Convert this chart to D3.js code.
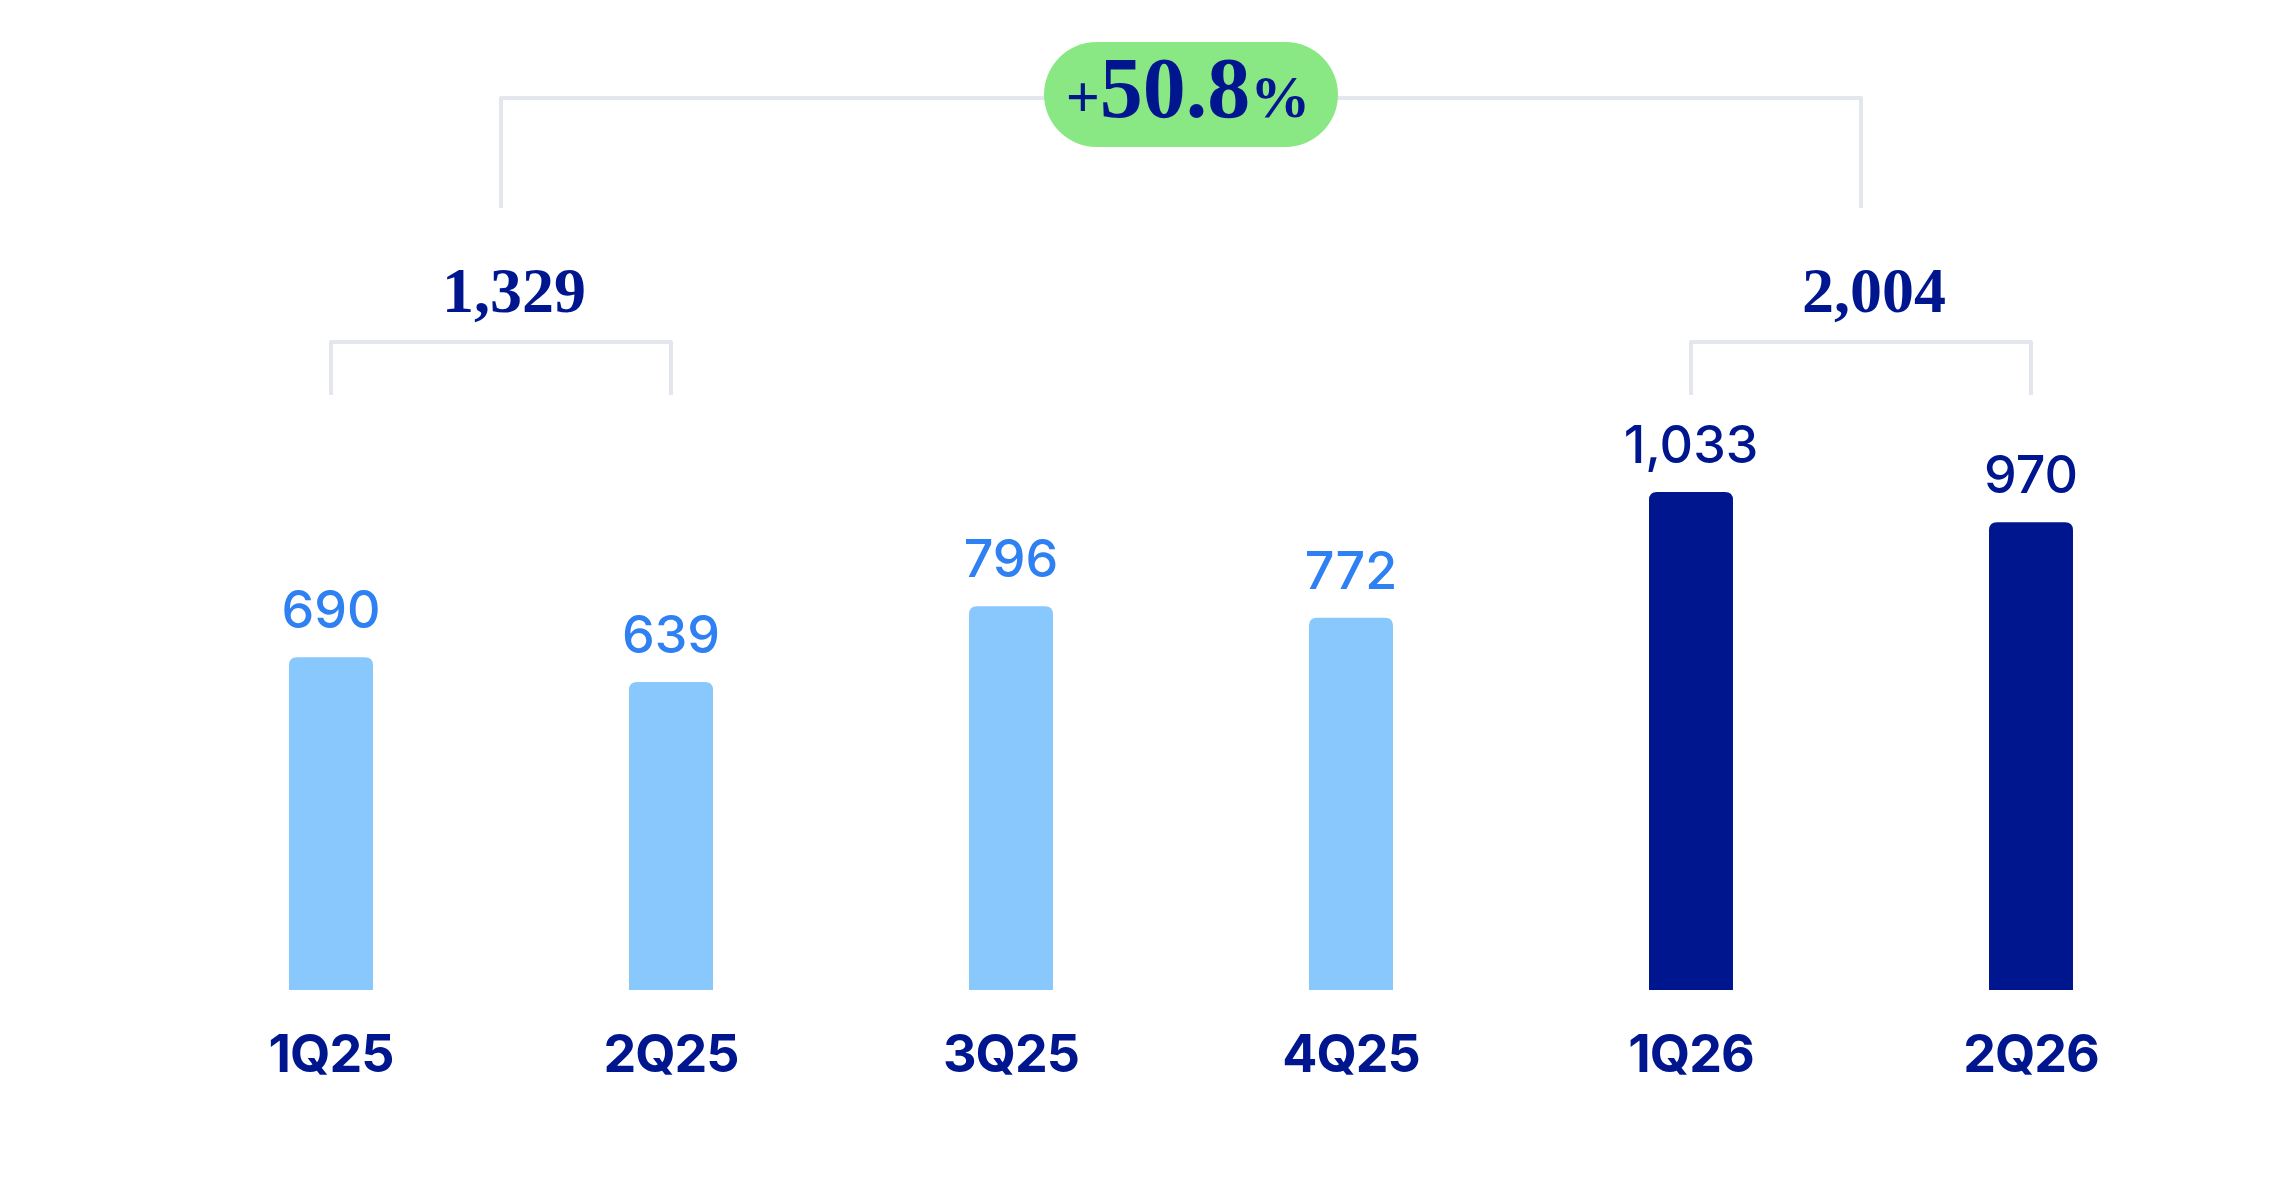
<!DOCTYPE html>
<html>
<head>
<meta charset="utf-8">
<script src="https://cdn.jsdelivr.net/npm/d3@7"></script>
<style>
  body { margin: 0; background: #fff; }
  svg { display: block; }
</style>
</head>
<body>
<svg width="2292" height="1188"></svg>
<script>
// quarterly values
var quarters = ["1Q25", "2Q25", "3Q25", "4Q25", "1Q26", "2Q26"];
var values = [690, 639, 796, 772, 1033, 970];
var highlight = [false, false, false, false, true, true];

// half-year groups (first and last two quarters)
var groups = [
    { label: "1,329", from: "1Q25", to: "2Q25" },
    { label: "2,004", from: "1Q26", to: "2Q26" }
];
var growth = { sign: "+", num: "50.8", pct: "%" };

var navy = "#00168f";
var lightBar = "#88c8fd";
var lightText = "#2f80f2";
var grey = "#e3e6ec";
var green = "#8ae884";

var sans = "Inter, 'Open Sans', sans-serif";
var serif = "'Liberation Serif', 'Times New Roman', serif";

var svg = d3.select("svg");

var x = d3.scaleBand()
    .domain(quarters)
    .range([161, 2201])
    .paddingInner(0.753)
    .paddingOuter(0.3765);

var y = d3.scaleLinear()
    .domain([0, 1033])
    .range([990, 492]);

var bw = x.bandwidth();
var cx = function(q) { return x(q) + bw / 2; };

// bar with rounded top corners only
var barPath = function(d, i) {
    var x0 = x(quarters[i]), x1 = x0 + bw;
    var y0 = y(0), y1 = y(d);
    var r = 8;
    return "M" + x0 + "," + y0 +
        "V" + (y1 + r) +
        "Q" + x0 + "," + y1 + " " + (x0 + r) + "," + y1 +
        "H" + (x1 - r) +
        "Q" + x1 + "," + y1 + " " + x1 + "," + (y1 + r) +
        "V" + y0 + "Z";
};

var plot = svg.append("g").attr("id", "plot");

plot.selectAll("path.bar")
    .data(values)
    .enter().append("path")
    .attr("class", "bar")
    .attr("d", barPath)
    .attr("fill", function(d, i) { return highlight[i] ? navy : lightBar; });

plot.selectAll("text.value")
    .data(values)
    .enter().append("text")
    .attr("class", "value")
    .attr("x", function(d, i) { return cx(quarters[i]); })
    .attr("y", function(d) { return y(d) - 29; })
    .attr("text-anchor", "middle")
    .style("font-family", sans)
    .style("font-size", "52px")
    .style("font-weight", 500)
    .attr("fill", function(d, i) { return highlight[i] ? navy : lightText; })
    .text(function(d) { return d3.format(",")(d); });

// category axis, no line or ticks
var xAxis = d3.axisBottom(x).tickSize(0).tickPadding(0);
var xGroup = plot.append("g")
    .attr("id", "x-axis")
    .attr("transform", "translate(0,1072)")
    .call(xAxis);
xGroup.select(".domain").remove();
xGroup.selectAll("text")
    .attr("dy", 0)
    .style("font-family", sans)
    .style("font-size", "52px")
    .style("font-weight", 700)
    .style("letter-spacing", "-1px")
    .attr("fill", navy);

// group brackets
var brackets = svg.append("g").attr("id", "brackets");
var groupMid = [];
groups.forEach(function(g) {
    var xa = cx(g.from), xb = cx(g.to);
    groupMid.push((xa + xb) / 2);
    brackets.append("path")
        .attr("d", "M" + xa + ",395V342H" + xb + "V395")
        .attr("fill", "none")
        .attr("stroke", grey)
        .attr("stroke-width", 4)
        .attr("stroke-linejoin", "round");
    brackets.append("text")
        .attr("x", (xa + xb) / 2 + 13)
        .attr("y", 312)
        .attr("text-anchor", "middle")
        .style("font-family", serif)
        .style("font-size", "64px")
        .style("font-weight", 700)
        .attr("fill", navy)
        .text(g.label);
});

// top bracket between groups
brackets.append("path")
    .attr("d", "M" + groupMid[0] + ",208V98H" + groupMid[1] + "V208")
    .attr("fill", "none")
    .attr("stroke", grey)
    .attr("stroke-width", 4)
    .attr("stroke-linejoin", "round");

var pillX = (groupMid[0] + groupMid[1]) / 2 + 10;
var pill = svg.append("g").attr("id", "growth");
pill.append("rect")
    .attr("x", pillX - 147)
    .attr("y", 42)
    .attr("width", 294)
    .attr("height", 105)
    .attr("rx", 52.5)
    .attr("fill", green);

var gt = pill.append("text")
    .attr("x", pillX - 3)
    .attr("y", 117)
    .attr("text-anchor", "middle")
    .style("font-family", serif)
    .style("font-weight", 700)
    .attr("fill", navy);
gt.append("tspan").style("font-size", "60px").text(growth.sign);
gt.append("tspan").style("font-size", "86px").text(growth.num);
gt.append("tspan").style("font-size", "60px").text(growth.pct);
</script>
</body>
</html>
